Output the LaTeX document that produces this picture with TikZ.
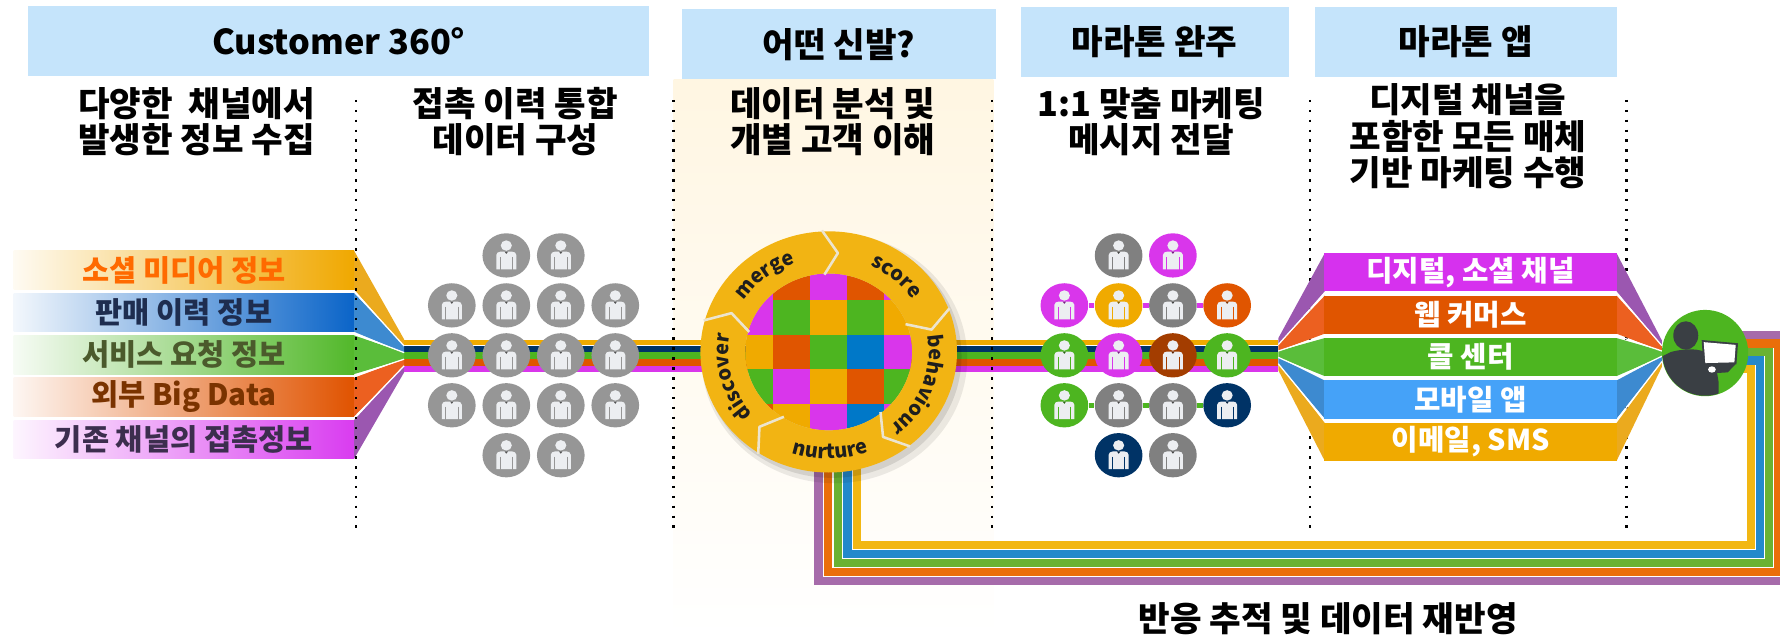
\documentclass[tikz,border=0pt]{standalone}
\usepackage{fontspec}
\setmainfont{Noto Sans CJK KR}
\usetikzlibrary{shapes.geometric, decorations.text}

\definecolor{hdrblue}{RGB}{197,228,251}
\definecolor{colTop}{RGB}{255,246,226}
\definecolor{colMid}{RGB}{253,224,156}
\definecolor{cmag}{RGB}{217,54,235}
\definecolor{corg}{RGB}{224,85,0}
\definecolor{cgrn}{RGB}{77,181,32}
\definecolor{cyel}{RGB}{240,170,0}
\definecolor{cblu}{RGB}{0,120,200}
\definecolor{cnav}{RGB}{0,51,102}
\definecolor{cbrn}{RGB}{163,61,0}
\definecolor{cgry}{RGB}{128,128,128}
\definecolor{lgry}{RGB}{150,150,150}
\definecolor{iconw}{RGB}{236,238,241}
\definecolor{ringy}{RGB}{242,180,19}
\definecolor{ringline}{RGB}{236,228,206}
\definecolor{ringtxt}{RGB}{30,30,30}
\definecolor{sil}{RGB}{58,63,68}
% input bars and their lettering
\definecolor{ib1}{RGB}{240,168,0}   \definecolor{it1}{RGB}{255,106,0}
\definecolor{ib2}{RGB}{10,100,200}  \definecolor{it2}{RGB}{30,45,79}
\definecolor{ib3}{RGB}{82,184,42}   \definecolor{it3}{RGB}{75,90,44}
\definecolor{ib4}{RGB}{224,83,0}    \definecolor{it4}{RGB}{122,51,0}
\definecolor{ib5}{RGB}{217,60,240}  \definecolor{it5}{RGB}{60,46,78}
% funnel tints
\definecolor{fpur}{RGB}{155,87,176}
\definecolor{forg}{RGB}{236,96,32}
\definecolor{fgrn}{RGB}{90,189,58}
\definecolor{fblu}{RGB}{61,138,208}
\definecolor{fyel}{RGB}{235,170,30}
% return loop
\definecolor{lpur}{RGB}{166,107,170}
\definecolor{lorg}{RGB}{234,110,10}
\definecolor{lgrn}{RGB}{106,178,50}
\definecolor{lblu}{RGB}{35,137,203}
\definecolor{lyel}{RGB}{242,183,19}
% channel bars
\definecolor{amag}{RGB}{214,49,238}
\definecolor{ablu}{RGB}{69,162,248}

\newcommand\ringlbl{\bfseries\fontsize{12.5}{13}\selectfont}

\tikzset{
  pics/man/.style={code={
    \fill[iconw] (0,8.7) ellipse[x radius=4.9, y radius=4.6];
    \fill[iconw] (-8.8,-12.3) -- (-8.8,0.4) to[out=90,in=180] (-5.2,3.3) -- (5.2,3.3) to[out=0,in=90] (8.8,0.4) -- (8.8,-12.3) -- cycle;
    \draw[#1, line width=0.45pt] (-5.4,-1.2) -- (-5.4,-12.6) (5.4,-1.2) -- (5.4,-12.6);
    \fill[#1!55!black] (-1.5,3.3) -- (1.5,3.3) -- (0,1.3) -- cycle;
  }}
}

\begin{document}
\begin{tikzpicture}[x=0.025cm, y=0.025cm,
    hdr/.style={fill=hdrblue, inner sep=0, font=\bfseries\fontsize{21.5}{24}\selectfont},
    sub/.style={inner sep=0, align=center, font=\bfseries\fontsize{21.5}{22.8}\selectfont},
    inbar/.style={minimum width=7.5cm, minimum height=0.85cm, inner sep=0, font=\bfseries\fontsize{18.5}{20}\selectfont},
    appbar/.style={minimum width=6.45cm, minimum height=0.84cm, inner sep=0, text=white, font=\bfseries\fontsize{18}{20}\selectfont},
    pnode/.style={ellipse, minimum width=1.05cm, minimum height=0.975cm, inner sep=0},
    link/.style={line width=3.1pt},
    band/.style={line width=4.3pt},
    loopband/.style={line width=5.2pt, line join=miter},
    colsep/.style={line width=1.6pt, dash pattern=on 1.6pt off 4.6pt},
    ringsep/.style={line width=1.6pt, draw=ringline, line join=round}]

  \useasboundingbox (0,0) rectangle (1568,-560);

  % analysis column
  \shade[top color=colTop, middle color=colMid, bottom color=white] (593.5,-70) rectangle (875,-560);

  % header boxes
  \node[hdr, minimum width=13.675cm, minimum height=1.55cm] (h1) at (298.5,-36) {Customer 360°};
  \node[hdr, minimum width=6.9cm, minimum height=1.55cm] (h2) at (739,-39) {어떤 신발?};
  \node[hdr, minimum width=5.9cm, minimum height=1.55cm] (h3) at (1017,-37) {마라톤 완주};
  \node[hdr, minimum width=6.65cm, minimum height=1.55cm] (h4) at (1291,-37) {마라톤 앱};

  % feedback loop back to the analysis ring
  \foreach \cl/\ty/\rx/\by/\lx in {lpur/295/1574/512/721, lorg/302.5/1566/504/729.5,
      lgrn/310/1558/496/738, lblu/317.5/1550.5/488/746.5, lyel/325/1542.5/480/755}
    \draw[loopband, \cl] (1500,-\ty) -- (\rx,-\ty) -- (\rx,-\by) -- (\lx,-\by) -- (\lx,-395);

  % data bundle
  \foreach \cl/\yy/\w in {cyel/301.6/3.6pt, cnav/307.6/4.3pt, cgrn/313.2/4.3pt, corg/319.1/4.3pt, cmag/325/4.3pt}
    \draw[\cl, line width=\w] (355,-\yy) -- (1126,-\yy);
  \draw[white, line width=0.6pt] (355,-304.5) -- (1126,-304.5);

  % source bars
  \foreach \cl/\tc/\lbl [count=\k] in {ib1/it1/소셜 미디어 정보, ib2/it2/판매 이력 정보,
      ib3/it3/서비스 요청 정보, ib4/it4/외부 Big Data, ib5/it5/기존 채널의 접촉정보}
    \node[inbar, left color=\cl!5, right color=\cl, text=\tc] (in\k) at (162,{-238-37.25*(\k-1)}) {\lbl};

  % funnel into the bundle
  \foreach \cl [count=\k from 0] in {fyel,fblu,fgrn,forg,fpur}
    \fill[\cl] (312,{-221-37.25*\k}) -- (312,{-255-37.25*\k}) -- (356,{-304.8-5.8*\k}) -- (356,{-299-5.8*\k}) -- cycle;
  \foreach \k in {1,...,4}
    \draw[white, line width=0.8pt] (312,{-256.6-37.25*(\k-1)}) -- (356,{-299-5.8*\k});

  % column separators
  \foreach \x in {313.5,593.5,874,1154,1433}
    \draw[colsep] (\x,-88) -- (\x,-468);

  % merged contact history
  \foreach \r/\cl in {1/{2,3},2/{1,2,3,4},3/{1,2,3,4},4/{1,2,3,4},5/{2,3}}
    \foreach \c in \cl {
      \node[pnode, fill=lgry] (g\r\c) at ({398+48*(\c-1)},{-225-44*(\r-1)}) {};
      \pic at (g\r\c) {man=lgry};
    }

  % analysis ring
  \coordinate (hub) at (730,-310);
  \begin{scope}[shift={(hub)}, yscale=0.94]
    \fill[black, opacity=0.08] (5,-6) circle[radius=117];
    \fill[black, opacity=0.10] (3,-4) circle[radius=114];
    \begin{scope}
      \clip (0,0) circle[radius=73.5];
      \foreach \row/\cols in {0/{cmag,corg,cmag,corg,cmag}, 1/{cmag,cgrn,cyel,cgrn,cyel},
          2/{cyel,corg,cgrn,cblu,cmag}, 3/{cgrn,cmag,cyel,corg,cgrn}, 4/{corg,cyel,cmag,cblu,cmag}}
        \foreach \cc [count=\col from 0] in \cols
          \fill[\cc] ({-81.25+32.5*\col},{81.25-32.5*\row}) rectangle ++(32.5,-32.5);
    \end{scope}
    \fill[ringy, even odd rule] (0,0) circle[radius=113] (0,0) circle[radius=73.5];
    \foreach \a in {90,18,-54,-126,162}
      \draw[ringsep] ({\a+3}:114) -- ({\a-5}:93) -- ({\a+3}:72.5);
    \path[decorate, decoration={text along path, text align=center, text color=ringtxt, text={|\ringlbl|merge}}]
      (169:88.5) arc[start angle=169, end angle=89, radius=88.5];
    \path[decorate, decoration={text along path, text align=center, text color=ringtxt, text={|\ringlbl|score}}]
      (89:88.5) arc[start angle=89, end angle=9, radius=88.5];
    \path[decorate, decoration={text along path, text align=center, text color=ringtxt, text={|\ringlbl|behaviour}}]
      (19:88.5) arc[start angle=19, end angle=-61, radius=88.5];
    \path[decorate, decoration={text along path, text align=center, text color=ringtxt, text={|\ringlbl|discover}}]
      (235:88.5) arc[start angle=235, end angle=155, radius=88.5];
    \path[decorate, decoration={text along path, text align=center, text color=ringtxt, text={|\ringlbl|nurture}}]
      (-129:100) arc[start angle=-129, end angle=-49, radius=100];
  \end{scope}

  % one-to-one targets
  \foreach \r/\c/\cl in {1/2/cgry, 1/3/cmag, 2/1/cmag, 2/2/cyel, 2/3/cgry, 2/4/corg,
      3/1/cgrn, 3/2/cmag, 3/3/cbrn, 3/4/cgrn, 4/1/cgrn, 4/2/cgry, 4/3/cgry, 4/4/cnav, 5/2/cnav, 5/3/cgry}
    \node[pnode, fill=\cl] (m\r\c) at ({937.6+47.8*(\c-1)},{-225-44*(\r-1)}) {};
  \foreach \c in {2,3}
    \foreach \r [evaluate=\r as \n using int(\r+1)] in {1,...,4}
      \draw[link, cmag] (m\r\c) -- (m\n\c);
  \foreach \c [evaluate=\c as \n using int(\c+1)] in {1,2,3} {
    \draw[link, cmag] (m2\c) -- (m2\n);
    \draw[link, cgrn] (m4\c) -- (m4\n);
  }
  \foreach \r/\c/\cl in {1/2/cgry, 1/3/cmag, 2/1/cmag, 2/2/cyel, 2/3/cgry, 2/4/corg,
      3/1/cgrn, 3/2/cmag, 3/3/cbrn, 3/4/cgrn, 4/1/cgrn, 4/2/cgry, 4/3/cgry, 4/4/cnav, 5/2/cnav, 5/3/cgry}
    \pic at (m\r\c) {man=\cl};

  % channel funnels
  \foreach \cl [count=\k from 0] in {fpur,forg,fgrn,fblu,fyel} {
    \fill[\cl] (1167,{-223-37.4*\k}) -- (1167,{-256.5-37.4*\k}) -- (1126,{-303.6-5.6*\k}) -- (1126,{-298-5.6*\k}) -- cycle;
    \fill[\cl] (1424,{-223-37.4*\k}) -- (1424,{-256.5-37.4*\k}) -- (1464,{-304.6-4.6*\k}) -- (1464,{-300-4.6*\k}) -- cycle;
  }
  \foreach \k in {1,...,4} {
    \draw[white, line width=0.8pt] (1167,{-258.2-37.4*(\k-1)}) -- (1126,{-298-5.6*\k});
    \draw[white, line width=0.8pt] (1424,{-258.2-37.4*(\k-1)}) -- (1464,{-300-4.6*\k});
  }

  % channel bars
  \foreach \cl/\lbl [count=\k] in {amag/{디지털, 소셜 채널}, corg/웹 커머스, cgrn/콜 센터, ablu/모바일 앱, cyel/{이메일, SMS}}
    \node[appbar, fill=\cl] (ap\k) at (1295.5,{-239.75-37.4*(\k-1)}) {\lbl};

  % customer at the screen
  \node[circle, fill=cgrn, minimum size=1.9cm, inner sep=0] (cust) at (1502,-311) {};
  \begin{scope}[shift={(cust.center)}]
    \clip (0,0) circle[radius=37.6];
    \fill[sil] (-17,15.5) ellipse[x radius=11, y radius=12.5];
    \fill[sil] (-40,-4) -- (-30,1) .. controls (-22,3) and (-10,5) .. (0,1)
      .. controls (6,-2) and (9,-8) .. (10,-14) -- (12,-26) -- (12,-40) -- (-40,-40) -- cycle;
    \fill[sil] (-3,11.5) -- (29,8.6) -- (27.6,-10) -- (-1.5,-10.6) -- cycle;
    \fill[white] (-1.2,9.6) -- (27,7.2) -- (25.8,-8.2) -- (0.2,-8.8) -- cycle;
    \fill[sil] (0,-10) -- (27,-9.6) -- (20,-17) -- (4,-18) -- cycle;
    \fill[white] (6,-14.5) ellipse[x radius=3.4, y radius=2.8];
  \end{scope}

  % column texts
  \node[sub] (t1) at (173,-107) {다양한\ \ 채널에서\\발생한 정보 수집};
  \node[sub] (t2) at (454,-107) {접촉 이력 통합\\데이터 구성};
  \node[sub] (t3) at (733.5,-107) {데이터 분석 및\\개별 고객 이해};
  \node[sub] (t4) at (1014,-107) {1:1 맞춤 마케팅\\메시지 전달};
  \node[sub] (t5) at (1293,-120) {디지털 채널을\\포함한 모든 매체\\기반 마케팅 수행};
  \node[sub] (fb) at (1170,-545) {반응 추적 및 데이터 재반영};
\end{tikzpicture}
\end{document}
